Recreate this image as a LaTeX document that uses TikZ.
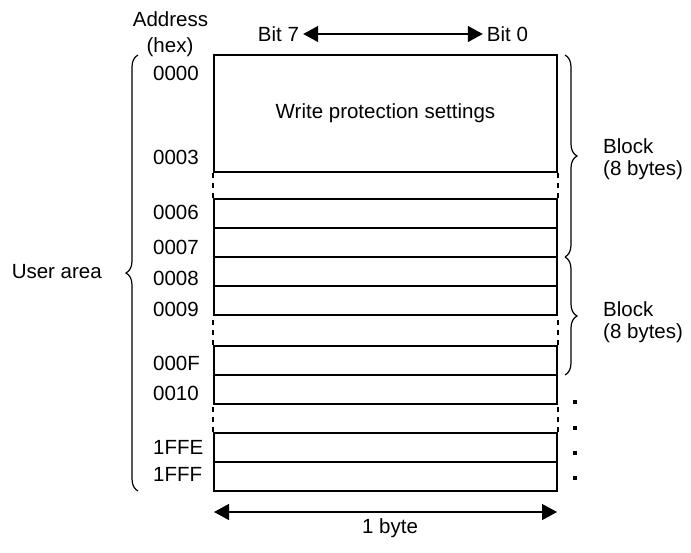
\documentclass[tikz,border=0pt]{standalone}
\usepackage{fontspec}
\setmainfont{Liberation Sans}
\usetikzlibrary{arrows.meta,decorations.pathreplacing}

\begin{document}
\begin{tikzpicture}[
    x=1pt, y=-1pt,
    font=\fontsize{20.5}{22}\selectfont,
    txt/.style={inner sep=2pt},
    cell/.style={draw, line width=1.8pt, minimum width=343pt, minimum height=29pt, inner sep=0pt},
    gapline/.style={line width=1.8pt, dash pattern=on 5pt off 5pt},
    membrace/.style={decorate, decoration={brace, amplitude=12pt}, line width=1.2pt},
    widtharrow/.style={{Triangle[length=15pt,width=16pt]}-{Triangle[length=15pt,width=16pt]}, line width=1.4pt}
  ]
    \useasboundingbox (0,0) rectangle (691,552);

    % memory cells
    \node[cell, minimum height=117pt] (wp) at (385.5,113.5) {Write protection settings};
    \node[cell] (r0006) at (385.5,213.5) {};
    \node[cell] (r0007) at (385.5,242.5) {};
    \node[cell] (r0008) at (385.5,271.5) {};
    \node[cell] (r0009) at (385.5,300.5) {};
    \node[cell] (r000F) at (385.5,360.5) {};
    \node[cell] (r0010) at (385.5,389.5) {};
    \node[cell] (r1FFE) at (385.5,447.5) {};
    \node[cell] (r1FFF) at (385.5,476.5) {};

    % omitted rows
    \draw[gapline] (r0006.north west) -- (wp.south west);
    \draw[gapline] (r0006.north east) -- (wp.south east);
    \draw[gapline] (r000F.north west) -- (r0009.south west);
    \draw[gapline] (r000F.north east) -- (r0009.south east);
    \draw[gapline] (r1FFE.north west) -- (r0010.south west);
    \draw[gapline] (r1FFE.north east) -- (r0010.south east);

    % addresses
    \node[txt] (addr) at (170.5,19.5) {Address};
    \node[txt] (hex) at (170,47) {(hex)};
    \node[txt, anchor=west] (a0000) at (151,73.7) {0000};
    \node[txt, anchor=west] (a0003) at (151,157) {0003};
    \node[txt, anchor=west] (a0006) at (151,212.8) {0006};
    \node[txt, anchor=west] (a0007) at (151,247.5) {0007};
    \node[txt, anchor=west] (a0008) at (151,278.8) {0008};
    \node[txt, anchor=west] (a0009) at (151,309) {0009};
    \node[txt, anchor=west] (a000F) at (151,363) {000F};
    \node[txt, anchor=west] (a0010) at (151,393) {0010};
    \node[txt, anchor=west] (a1FFE) at (151,447) {1FFE};
    \node[txt, anchor=west] (a1FFF) at (151,474) {1FFF};

    % bit order
    \node[txt] (bit7) at (278.5,34) {Bit 7};
    \node[txt] (bit0) at (507.5,34) {Bit 0};
    \draw[widtharrow, shorten <=2pt, shorten >=2pt] (bit7) -- (bit0);

    % braces
    \coordinate (userbot) at (138,491);
    \coordinate (usertop) at (138,55);
    \draw[membrace] (userbot) -- (usertop);
    \node[txt, anchor=east] (user) at (104,272) {User area};

    \coordinate (blkA) at (565,55);
    \coordinate (blkB) at (565,257);
    \coordinate (blkC) at (565,375);
    \draw[membrace] (blkA) -- (blkB);
    \draw[membrace] (blkB) -- (blkC);
    \node[txt, align=left, anchor=west] (block1) at (601,159) {Block\\(8 bytes)};
    \node[txt, align=left, anchor=west] (block2) at (601,322) {Block\\(8 bytes)};

    % continuation dots
    \fill (573.3,400.3) rectangle ++(3.5,3.5);
    \fill (573.3,426.3) rectangle ++(3.5,3.5);
    \fill (573.3,451.3) rectangle ++(3.5,3.5);
    \fill (573.3,476.3) rectangle ++(3.5,3.5);

    % byte width
    \coordinate (byteL) at (214,512);
    \coordinate (byteR) at (557,512);
    \draw[widtharrow] (byteL) -- (byteR);
    \node[txt] (byte) at (390,528.5) {1 byte};
  \end{tikzpicture}
\end{document}
